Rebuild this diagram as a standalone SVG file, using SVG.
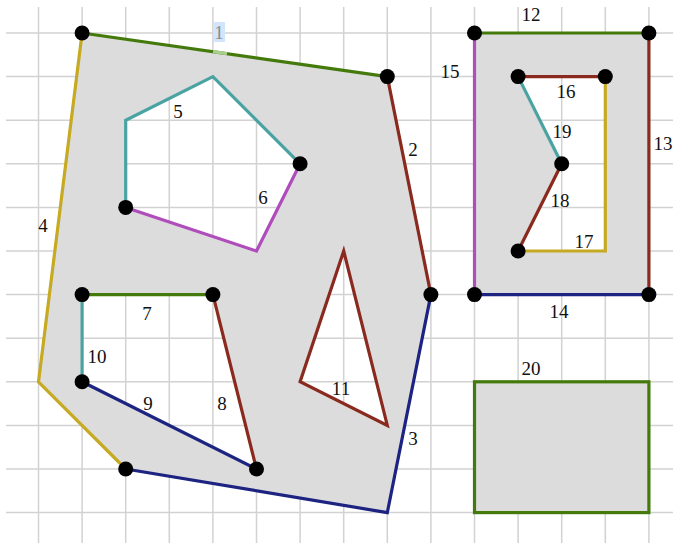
<svg xmlns="http://www.w3.org/2000/svg" width="673" height="543" viewBox="0 0 673 543">
<style>
.grid line{stroke:#d2d2d2;stroke-width:1.5}
.shape{fill:#dcdcdc;fill-rule:evenodd;stroke:none}
.e{fill:none;stroke-width:3.2;stroke-linejoin:miter;stroke-linecap:butt}
.green{stroke:#447a0c}
.red{stroke:#8a2a1e}
.navy{stroke:#1c2380}
.yellow{stroke:#c6aa22}
.teal{stroke:#4aa3a3}
.purple{stroke:#b04cbc}
.dot{fill:#000}
text{font-family:"Liberation Serif","Times New Roman",serif;font-size:19px;fill:#111;text-anchor:middle;dominant-baseline:central}
</style>
<rect width="673" height="543" fill="#fff"/>
<g class="grid" id="grid">
<line x1="38.5" y1="7" x2="38.5" y2="543"/>
<line x1="82.1" y1="7" x2="82.1" y2="543"/>
<line x1="125.7" y1="7" x2="125.7" y2="543"/>
<line x1="169.3" y1="7" x2="169.3" y2="543"/>
<line x1="212.9" y1="7" x2="212.9" y2="543"/>
<line x1="256.5" y1="7" x2="256.5" y2="543"/>
<line x1="300.1" y1="7" x2="300.1" y2="543"/>
<line x1="343.7" y1="7" x2="343.7" y2="543"/>
<line x1="387.3" y1="7" x2="387.3" y2="543"/>
<line x1="430.9" y1="7" x2="430.9" y2="543"/>
<line x1="474.5" y1="7" x2="474.5" y2="543"/>
<line x1="518.1" y1="7" x2="518.1" y2="543"/>
<line x1="561.7" y1="7" x2="561.7" y2="543"/>
<line x1="605.3" y1="7" x2="605.3" y2="543"/>
<line x1="648.9" y1="7" x2="648.9" y2="543"/>
<line x1="6" y1="33" x2="673" y2="33"/>
<line x1="6" y1="76.6" x2="673" y2="76.6"/>
<line x1="6" y1="120.2" x2="673" y2="120.2"/>
<line x1="6" y1="163.8" x2="673" y2="163.8"/>
<line x1="6" y1="207.4" x2="673" y2="207.4"/>
<line x1="6" y1="251" x2="673" y2="251"/>
<line x1="6" y1="294.6" x2="673" y2="294.6"/>
<line x1="6" y1="338.2" x2="673" y2="338.2"/>
<line x1="6" y1="381.8" x2="673" y2="381.8"/>
<line x1="6" y1="425.4" x2="673" y2="425.4"/>
<line x1="6" y1="469" x2="673" y2="469"/>
<line x1="6" y1="512.6" x2="673" y2="512.6"/>
</g>
<g id="shape-left">
<path class="shape" d="M82.1,33 L387.3,76.6 L430.9,294.6 L387.3,512.6 L125.7,469 L38.5,381.8 Z M125.7,120.2 L212.9,76.6 L300.1,163.8 L256.5,251 L125.7,207.4 Z M82.1,294.6 L212.9,294.6 L256.5,469 L82.1,381.8 Z M343.7,251 L387.3,425.4 L300.1,381.8 Z"/>
</g>
<g id="shape-right">
<path class="shape" d="M474.5,33 L648.9,33 L648.9,294.6 L474.5,294.6 Z M518.1,76.6 L605.3,76.6 L605.3,251 L518.1,251 L561.7,163.8 Z"/>
</g>
<g id="shape-rect20">
<rect class="shape" x="474.5" y="381.8" width="174.4" height="130.8"/>
</g>
<g id="connectors">
<path id="e1" class="e green" d="M82.1,33 L387.3,76.6"/>
<path id="e1-hl" fill="none" stroke="#a9cf8c" stroke-width="3.2" d="M213,51.7 L227,53.7"/>
<path id="e2" class="e red" d="M387.3,76.6 L430.9,294.6"/>
<path id="e3" class="e navy" d="M430.9,294.6 L387.3,512.6 L125.7,469"/>
<path id="e4" class="e yellow" d="M125.7,469 L38.5,381.8 L82.1,33"/>
<path id="e5" class="e teal" d="M125.7,207.4 L125.7,120.2 L212.9,76.6 L300.1,163.8"/>
<path id="e6" class="e purple" d="M300.1,163.8 L256.5,251 L125.7,207.4"/>
<path id="e7" class="e green" d="M82.1,294.6 L212.9,294.6"/>
<path id="e8" class="e red" d="M212.9,294.6 L256.5,469"/>
<path id="e9" class="e navy" d="M256.5,469 L82.1,381.8"/>
<path id="e10" class="e teal" d="M82.1,381.8 L82.1,294.6"/>
<path id="e11" class="e red" d="M343.7,251 L387.3,425.4 L300.1,381.8 Z"/>
<path id="e12" class="e green" d="M474.5,33 L648.9,33"/>
<path id="e13" class="e red" d="M648.9,33 L648.9,294.6"/>
<path id="e14" class="e navy" d="M648.9,294.6 L474.5,294.6"/>
<path id="e15" class="e purple" d="M474.5,294.6 L474.5,33"/>
<path id="e16" class="e red" d="M518.1,76.6 L605.3,76.6"/>
<path id="e17" class="e yellow" d="M605.3,76.6 L605.3,251 L518.1,251"/>
<path id="e18" class="e red" d="M518.1,251 L561.7,163.8"/>
<path id="e19" class="e teal" d="M561.7,163.8 L518.1,76.6"/>
<rect id="e20" class="e green" x="474.5" y="381.8" width="174.4" height="130.8"/>
</g>
<g id="vertices">
<circle class="dot" cx="82.1" cy="33" r="7.5"/>
<circle class="dot" cx="387.3" cy="76.6" r="7.5"/>
<circle class="dot" cx="430.9" cy="294.6" r="7.5"/>
<circle class="dot" cx="125.7" cy="469" r="7.5"/>
<circle class="dot" cx="300.1" cy="163.8" r="7.5"/>
<circle class="dot" cx="125.7" cy="207.4" r="7.5"/>
<circle class="dot" cx="82.1" cy="294.6" r="7.5"/>
<circle class="dot" cx="212.9" cy="294.6" r="7.5"/>
<circle class="dot" cx="256.5" cy="469" r="7.5"/>
<circle class="dot" cx="82.1" cy="381.8" r="7.5"/>
<circle class="dot" cx="474.5" cy="33" r="7.5"/>
<circle class="dot" cx="648.9" cy="33" r="7.5"/>
<circle class="dot" cx="648.9" cy="294.6" r="7.5"/>
<circle class="dot" cx="474.5" cy="294.6" r="7.5"/>
<circle class="dot" cx="518.1" cy="76.6" r="7.5"/>
<circle class="dot" cx="605.3" cy="76.6" r="7.5"/>
<circle class="dot" cx="561.7" cy="163.8" r="7.5"/>
<circle class="dot" cx="518.1" cy="251" r="7.5"/>
</g>
<g id="labels">
<rect x="213" y="22" width="12" height="20" fill="#d3e5fb"/>
<text x="219" y="32" style="fill:#8a8a8a">1</text>
<text x="413" y="149">2</text>
<text x="413" y="438">3</text>
<text x="43" y="225">4</text>
<text x="178" y="111">5</text>
<text x="263" y="197">6</text>
<text x="147" y="313">7</text>
<text x="222" y="403">8</text>
<text x="148" y="403">9</text>
<text x="97" y="356">10</text>
<text x="341" y="388">11</text>
<text x="531" y="14">12</text>
<text x="663" y="143">13</text>
<text x="559" y="311">14</text>
<text x="450" y="71">15</text>
<text x="566" y="91">16</text>
<text x="584" y="241">17</text>
<text x="560" y="200">18</text>
<text x="562" y="131">19</text>
<text x="531" y="368">20</text>
</g>
</svg>
